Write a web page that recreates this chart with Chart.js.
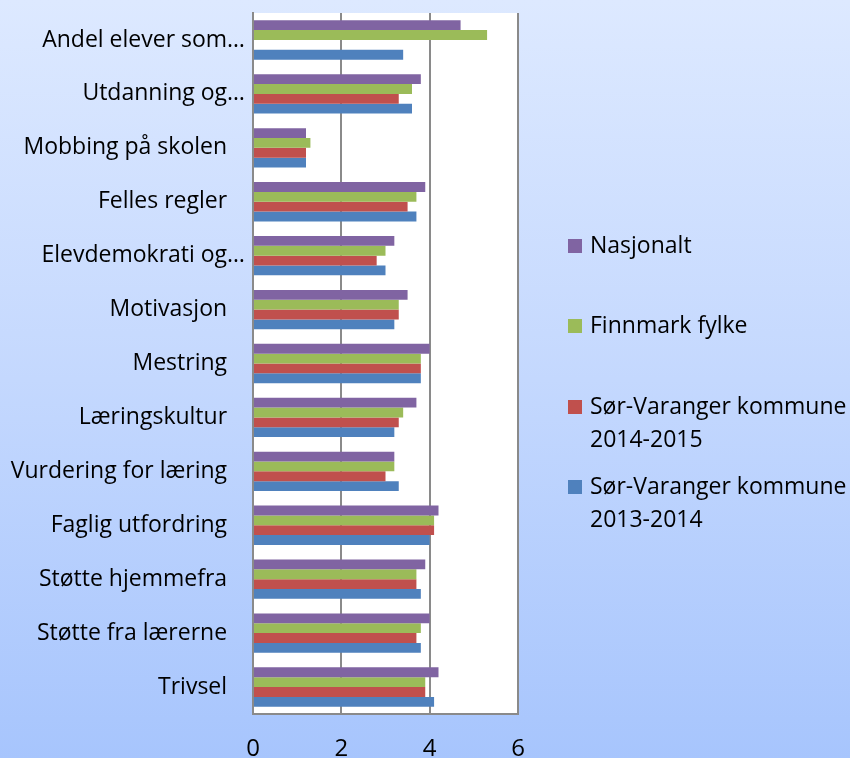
<!DOCTYPE html>
<html>
<head>
<meta charset="utf-8">
<script src="https://cdn.jsdelivr.net/npm/chart.js@4.4.1/dist/chart.umd.min.js"></script>
<style>
  html, body { margin: 0; padding: 0; }
  #wrap {
    width: 850px; height: 758px; position: relative;
    background: linear-gradient(to bottom, #dde9ff 0%, #c4d8fe 50%, #a7c5fd 100%);
  }
</style>
</head>
<body>
<div id="wrap"><canvas id="chart" width="850" height="758"></canvas></div>
<script>
// Kategorier (ovenfra og ned)
var categories = [
  'Andel elever som…',
  'Utdanning og…',
  'Mobbing på skolen   ',
  'Felles regler   ',
  'Elevdemokrati og…',
  'Motivasjon   ',
  'Mestring   ',
  'Læringskultur   ',
  'Vurdering for læring   ',
  'Faglig utfordring   ',
  'Støtte hjemmefra   ',
  'Støtte fra lærerne   ',
  'Trivsel   '
];

var nasjonalt   = [4.7, 3.8, 1.2, 3.9, 3.2, 3.5, 4.0, 3.7, 3.2, 4.2, 3.9, 4.0, 4.2];
var finnmark    = [5.3, 3.6, 1.3, 3.7, 3.0, 3.3, 3.8, 3.4, 3.2, 4.1, 3.7, 3.8, 3.9];
var sv20142015  = [null, 3.3, 1.2, 3.5, 2.8, 3.3, 3.8, 3.3, 3.0, 4.1, 3.7, 3.7, 3.9];
var sv20132014  = [3.4, 3.6, 1.2, 3.7, 3.0, 3.2, 3.8, 3.2, 3.3, 4.0, 3.8, 3.8, 4.1];

var xTicks = [0, 2, 4, 6];

var fontFamily = "'Open Sans', 'Noto Sans', sans-serif";

// Hvit bakgrunn i plottet
var plotBg = {
  id: 'plotBg',
  beforeDraw: function(chart) {
    var a = chart.chartArea;
    var ctx = chart.ctx;
    ctx.save();
    ctx.fillStyle = '#ffffff';
    ctx.fillRect(a.left, a.top, a.right - a.left, a.bottom - a.top);
    ctx.restore();
  }
};

// Egen legende til høyre (flere linjer per element)
var sideLegend = {
  id: 'sideLegend',
  afterDraw: function(chart) {
    var ctx = chart.ctx;
    var rows = [246, 326, 407, 487];
    ctx.save();
    ctx.font = '23px ' + fontFamily;
    ctx.textBaseline = 'middle';
    ctx.textAlign = 'left';
    chart.data.datasets.forEach(function(ds, i) {
      var y = rows[i];
      ctx.fillStyle = ds.backgroundColor;
      ctx.fillRect(568, y - 7, 14, 14);
      ctx.fillStyle = '#000000';
      var lines = [].concat(ds.label);
      lines.forEach(function(line, j) {
        ctx.fillText(line, 590, y + j * 33);
      });
    });
    ctx.restore();
  }
};

var ctx = document.getElementById('chart').getContext('2d');
var chart = new Chart(ctx, {
  type: 'bar',
  data: {
    labels: categories,
    datasets: [
      { label: 'Nasjonalt', data: nasjonalt, backgroundColor: '#8064a2' },
      { label: 'Finnmark fylke', data: finnmark, backgroundColor: '#9bbb59' },
      { label: ['Sør-Varanger kommune', '2014-2015'], data: sv20142015, backgroundColor: '#c0504d' },
      { label: ['Sør-Varanger kommune', '2013-2014'], data: sv20132014, backgroundColor: '#4f81bd' }
    ]
  },
  options: {
    indexAxis: 'y',
    responsive: false,
    animation: false,
    categoryPercentage: 0.73,
    barPercentage: 1.0,
    layout: { padding: { top: 13, right: 332, left: 0, bottom: 0 } },
    plugins: {
      legend: { display: false },
      tooltip: { enabled: false }
    },
    scales: {
      x: {
        min: 0,
        max: 6,
        afterBuildTicks: function(axis) {
          axis.ticks = xTicks.map(function(v) { return { value: v }; });
        },
        afterFit: function(axis) { axis.height = 44; axis.paddingLeft = 0; axis.paddingRight = 0; },
        grid: { color: '#8a8a8a', lineWidth: 2, drawTicks: false },
        border: { display: true, color: '#8a8a8a', width: 2 },
        ticks: {
          padding: 21,
          color: '#000000',
          font: { family: fontFamily, size: 24 }
        }
      },
      y: {
        afterFit: function(axis) { axis.width = 253; axis.paddingTop = 0; axis.paddingBottom = 0; },
        grid: { display: false, drawTicks: false },
        border: { display: true, color: '#8a8a8a', width: 2 },
        ticks: {
          padding: 8,
          color: '#000000',
          font: { family: fontFamily, size: 23 }
        }
      }
    }
  },
  plugins: [plotBg, sideLegend]
});
</script>
</body>
</html>
